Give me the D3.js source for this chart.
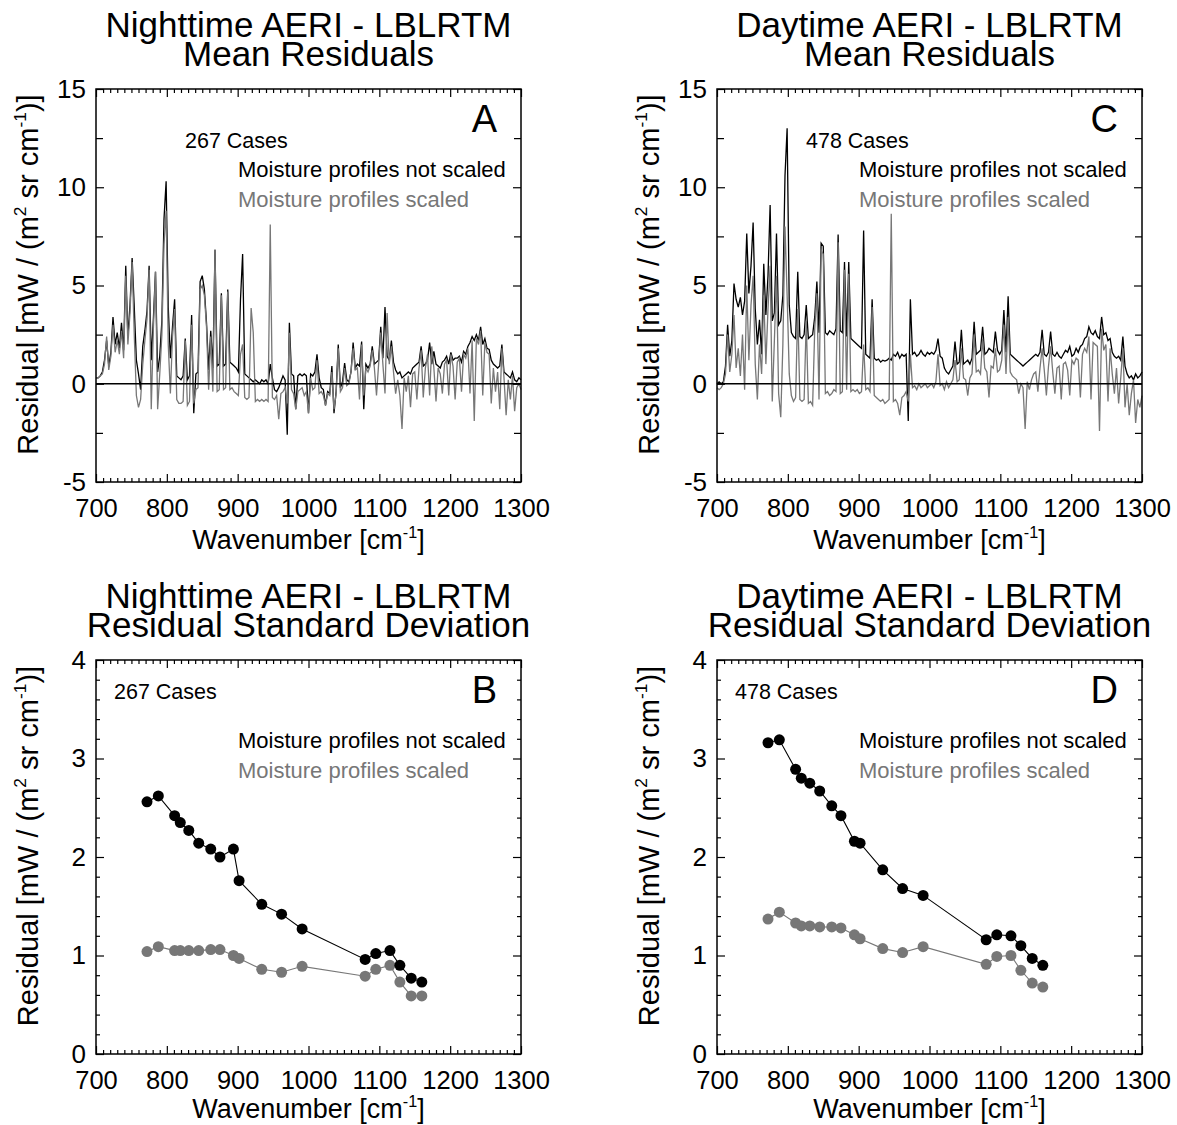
<!DOCTYPE html>
<html>
<head>
<meta charset="utf-8">
<script src="https://cdn.jsdelivr.net/npm/d3@7"></script>
<style>
body { margin: 0; background: #fff; }
text { font-family: "Liberation Sans", Arial, Helvetica, sans-serif; fill: #000; }
</style>
</head>
<body>
<svg id="chart" width="1177" height="1125"></svg>
<script>
// spectral grid of the mean residual panels
const waveStart = 700;
const waveStep = 3;

// nighttime mean residual, moisture profiles not scaled
const nightRaw = [
    0.3, 0.3, 0.4, 0.6, 1.2, 2.2, 0.9, 1.6, 3.4, 2.0,
    2.6, 1.8, 3.1, 1.7, 6.0, 2.4, 4.0, 6.4, 3.9, 1.2,
    0.5, -0.3, 1.9, 2.7, 3.7, 6.0, 1.2, 3.3, 5.7, 0.6,
    1.4, 3.2, 8.4, 10.3, 3.9, 1.3, 2.9, 4.3, 0.4, 0.3,
    0.2, 0.4, 2.3, 0.2, 0.4, 3.5, -1.5, 0.5, 0.6, 5.2,
    5.5, 4.8, 3.1, 0.7, 2.7, 0.8, 6.8, 0.9, 1.0, 4.6,
    0.9, 1.0, 4.8, 1.1, 1.0, 0.9, 0.8, 0.6, 4.3, 6.6,
    0.5, 0.4, 0.3, 0.2, 0.1, 0.2, 0.1, 0.0, 0.2, 0.1,
    0.2, 0.0, 1.0, 0.3, -0.3, -0.4, -0.2, 0.1, 0.4, 0.2,
    -2.6, 3.1, 0.5, 0.4, -1.3, 0.4, 0.5, 0.4, 0.5, 0.4,
    -1.5, 0.5, 0.4, 0.6, 1.5, 0.3, -0.2, -0.3, -1.1, -0.4,
    -0.5, 0.9, -1.5, -0.4, 2.0, -0.2, 0.1, 1.05, 0.2, 0.1,
    0.6, 2.1, 0.8, 1.0, 0.9, 2.15, -1.3, 1.0, 0.8, 1.0,
    1.9, 1.0, 1.1, 1.2, 2.9, 1.3, 3.9, 1.4, 1.2, 2.2,
    1.1, 0.7, 0.5, 0.6, 0.3, 0.4, 0.5, 0.6, 0.5, 0.8,
    0.9, 1.0, 1.1, 1.9, 0.9, 1.0, 1.2, 2.1, 1.0, 1.65,
    1.0, 0.9, 0.8, 1.1, 1.2, 1.4, 1.0, 1.6, 1.2, 1.3,
    1.3, 1.4, 1.1, 1.65, 1.5, 1.9, 2.1, 2.4, 2.2, 2.5,
    2.2, 2.9, 2.0, 2.3, 1.8, 1.75, 1.2, 1.0, 0.9, 0.8,
    0.9, 2.0, 0.6, 0.5, 0.4, 0.3, 0.6, 0.2, 0.1, 0.3,
    0.2
];

// nighttime mean residual, moisture profiles scaled
const nightScaled = [
    0.3, 0.3, 0.4, 0.5, 1.0, 2.4, 0.7, 1.4, 3.0, 1.6,
    2.2, 1.5, 2.7, 1.3, 5.5, 2.0, 3.6, 6.2, 2.5, -0.6,
    -1.2, -0.8, 1.0, 2.2, 3.3, 5.8, -1.3, 2.8, 5.7, -1.3,
    0.5, 2.5, 7.1, 8.8, 2.0, -0.5, 2.4, 3.8, -0.8, -1.0,
    -1.0, -0.9, 2.2, -1.1, -0.9, 3.0, -1.0, -0.3, -0.2, 4.8,
    5.0, 4.5, 2.9, -0.3, 2.4, -0.4, 6.85, -0.4, -0.3, 4.5,
    -0.3, -0.2, 4.7, -0.3, -0.2, -0.4, -0.5, -0.6, 1.5, 2.0,
    -0.7, -0.8, -0.7, 3.85, 2.6, -0.9, -0.8, -0.9, -0.8, -0.9,
    -0.8, -0.9, 8.1, -0.7, -0.8, -0.6, -1.8, -0.5, -0.4, -0.2,
    -1.0, 2.6, -0.3, -0.5, -1.3, -0.4, -0.3, -0.2, -0.6, -0.4,
    -1.5, 0.3, -0.3, -0.2, 1.2, -0.5, -0.4, -0.6, -1.1, -0.5,
    -0.6, 0.6, -1.3, -0.5, 1.8, -0.4, -0.2, 0.8, -0.1, 0.0,
    0.6, 1.8, 0.7, 0.8, -0.8, 2.0, -0.6, 0.8, 0.6, 0.9,
    1.7, 0.8, -0.6, 1.0, 2.6, 1.0, -0.5, 3.6, 1.0, 1.9,
    0.6, -0.5, 0.2, -0.6, -2.3, 0.3, -0.4, 0.4, -1.2, 0.5,
    0.6, -0.8, 0.8, 1.7, -0.7, 0.8, 1.5, -0.6, 1.9, 0.8,
    -0.9, 0.8, 0.5, -0.5, 1.0, 1.2, -0.6, 1.5, 0.9, -0.8,
    1.1, 1.3, -0.4, 1.5, 1.3, 1.8, -0.5, 2.2, -1.9, 2.3,
    2.0, 2.7, -0.6, 2.1, 1.6, 1.5, -1.0, 0.8, -0.4, 0.6,
    -1.3, 1.8, 0.3, -1.6, 0.2, -0.8, 0.4, -1.4, -0.2, 0.0,
    -0.3
];

// daytime mean residual, moisture profiles not scaled
const dayRaw = [
    0.0, 0.1, 0.0, 0.1, 0.9, 3.0, 1.4, 2.2, 5.1, 4.3,
    3.9, 4.4, 3.5, 4.2, 7.65, 4.6, 6.0, 8.2, 3.8, 2.0,
    3.25, 1.5, 6.1, 3.5, 5.5, 9.1, 3.2, 3.6, 7.65, 3.0,
    3.2, 4.5, 10.6, 13.0, 4.0, 2.6, 2.4, 2.3, 5.7, 2.4,
    2.3, 2.5, 4.0, 2.3, 2.4, 2.5, 3.4, 5.2, 2.6, 7.15,
    7.0, 2.6, 2.5, 2.7, 2.6, 2.5, 2.8, 7.6, 2.7, 2.6,
    6.2, 2.4, 6.2, 2.3, 2.2, 2.1, 2.0, 1.9, 1.8, 7.8,
    1.5, 1.4, 1.3, 4.3, 1.3, 1.2, 1.25, 1.1, 1.2, 1.15,
    1.2, 1.3, 1.2, 1.5, 1.4, 1.6, 1.3, 1.5, 1.4, 1.5,
    -1.9, 4.3, 1.5, 1.6, 1.4, 1.5, 1.7, 1.5, 1.4, 1.6,
    1.5, 1.6, 1.5, 1.7, 2.3, 1.4, 1.3, 0.8, 0.6, 0.5,
    0.7, 0.9, 2.15, 1.0, 1.1, 2.75, 1.0, 1.1, 1.2, 1.0,
    1.3, 3.15, 1.5, 1.6, 1.7, 2.9, 1.5, 1.6, 1.8, 1.7,
    1.6, 2.65, 1.7, 1.5, 1.7, 3.75, 1.6, 4.45, 1.5, 1.4,
    1.3, 1.2, 1.1, 1.0, 0.9, 1.0, 1.1, 1.2, 1.3, 1.4,
    1.5, 1.4, 1.6, 2.75, 1.5, 1.4, 1.6, 2.65, 1.5, 1.4,
    1.6, 1.4, 1.3, 1.5, 1.7, 1.6, 1.9, 1.4, 1.5, 1.8,
    1.6, 1.9, 2.0, 2.3, 2.4, 2.9, 2.6, 2.5, 2.7, 2.4,
    2.3, 3.4, 2.5, 2.6, 2.2, 2.3, 1.6, 1.4, 1.3, 1.4,
    1.2, 2.4, 0.9, 0.5, 0.3, 0.4, 0.2, 0.5, 0.3, 0.4,
    0.6
];

// daytime mean residual, moisture profiles scaled
const dayScaled = [
    -0.2, -0.3, -0.2, 0.0, 0.5, 2.5, 0.6, 1.5, 3.5, 0.8,
    1.8, 0.4, 2.5, -0.3, 5.0, 1.2, 4.0, 5.5, 1.0, -0.8,
    2.0, 0.5, 4.5, 1.0, 3.8, 6.0, -0.9, 2.2, 5.5, -0.5,
    -1.7, 2.0, 8.0, 4.5, 0.5, -0.6, -0.9, -0.7, 3.8, -0.8,
    -0.9, -0.8, 3.2, -1.0, -0.9, -1.1, 2.8, 4.6, -0.8, 6.8,
    6.6, -0.5, -0.4, -0.6, -0.5, -0.3, -0.4, 7.2, -0.5, -0.4,
    5.8, -0.3, 5.6, -0.4, -0.3, -0.4, -0.3, -0.5, -0.4, 2.0,
    -0.3, -0.2, -0.4, 3.9, -0.6, -0.7, -0.8, -0.9, -0.8, -1.0,
    -0.9, -0.8, 8.65, -0.9, -0.8, -1.0, -1.6, -0.7, -0.6, -0.4,
    -0.9, 1.5, -0.2, -0.1, -0.3, 0.0, -0.2, -0.1, 0.0, -0.2,
    -0.1, 0.0, -0.2, 0.1, 1.5, -0.1, 0.0, -0.3, 0.1, -0.2,
    0.0, 0.2, 1.2, 0.1, 0.2, 1.8, 0.3, 0.2, -0.6, 0.3,
    0.5, 2.5, 0.6, 0.7, 0.5, 2.3, 0.8, 0.6, -0.7, 0.9,
    0.8, 1.8, 0.6, 0.7, 1.2, 3.0, 0.5, 3.4, 0.6, 0.4,
    0.3, 0.2, -0.5, 0.0, -0.2, -2.3, 0.1, -0.3, 0.2, 0.5,
    0.6, -0.4, 0.8, 1.8, 0.7, -0.6, 0.9, 1.9, 0.6, -0.5,
    0.8, 0.9, -0.8, 1.0, 1.1, 0.7, -0.6, 1.2, 1.0, 1.3,
    1.2, -0.7, 1.5, 1.8, 1.6, 2.4, -0.8, 2.1, 2.0, 1.9,
    -2.4, 2.8, 1.7, 2.0, -0.9, 1.8, 0.5, -0.5, 0.8, -1.0,
    0.3, 1.8, -1.2, 0.0, -1.6, -0.5, 0.2, -2.0, -0.8, -1.2,
    -0.6
];

// channels used for the standard deviation panels
const channelWaves = [772, 788, 811, 819, 831, 845, 862, 875, 894, 902, 934, 962, 991, 1080, 1095, 1115, 1129, 1145, 1160];
const nightSdRaw = [2.56, 2.62, 2.42, 2.35, 2.27, 2.14, 2.08, 2.00, 2.08, 1.76, 1.52, 1.42, 1.27, 0.96, 1.02, 1.05, 0.90, 0.77, 0.73];
const nightSdScaled = [1.04, 1.09, 1.05, 1.05, 1.05, 1.05, 1.06, 1.06, 1.00, 0.97, 0.86, 0.83, 0.89, 0.79, 0.86, 0.90, 0.73, 0.59, 0.59];
const daySdRaw = [3.16, 3.19, 2.89, 2.80, 2.75, 2.67, 2.52, 2.42, 2.16, 2.14, 1.87, 1.68, 1.61, 1.16, 1.21, 1.20, 1.10, 0.97, 0.90];
const daySdScaled = [1.37, 1.44, 1.33, 1.30, 1.30, 1.29, 1.29, 1.28, 1.21, 1.17, 1.07, 1.03, 1.09, 0.91, 0.99, 1.00, 0.85, 0.72, 0.68];

const xTicks = [700, 800, 900, 1000, 1100, 1200, 1300];
const meanTicks = [-5, 0, 5, 10, 15];
const sdTicks = [0, 1, 2, 3, 4];

const grey = "#777777";
const plotW = 425;

const svg = d3.select("#chart");

// text with superscripts: parts = [[string, isSup], ...]
function richText(sel, parts, size) {
    let up = false;
    parts.forEach(([s, sup]) => {
        const t = sel.append("tspan").text(s);
        if (sup && !up) { t.attr("dy", -0.42 * size).attr("font-size", 0.6 * size); up = true; }
        else if (sup) { t.attr("font-size", 0.6 * size); }
        else if (up) { t.attr("dy", 0.42 * size); up = false; }
    });
}

function drawFrame(g, x, y, h, yTicks, yMinor) {
    const major = 8, minor = 4;
    const xMinor = d3.range(710, 1300, 10).filter(v => v % 100);

    g.append("g").attr("transform", `translate(0,${h})`)
        .call(d3.axisBottom(x).tickValues(xTicks).tickSize(-major).tickPadding(17).tickFormat(d => String(d)))
        .call(a => a.select(".domain").remove())
        .call(a => a.selectAll("text").attr("font-size", 25.5).attr("font-family", null));
    g.append("g").attr("transform", `translate(0,${h})`)
        .call(d3.axisBottom(x).tickValues(xMinor).tickSize(-minor).tickFormat(""))
        .call(a => a.select(".domain").remove());
    g.append("g")
        .call(d3.axisTop(x).tickValues(xTicks).tickSize(-major).tickFormat(""))
        .call(a => a.select(".domain").remove());
    g.append("g")
        .call(d3.axisTop(x).tickValues(xMinor).tickSize(-minor).tickFormat(""))
        .call(a => a.select(".domain").remove());

    g.append("g")
        .call(d3.axisLeft(y).tickValues(yTicks).tickSize(-major).tickPadding(10).tickFormat(d => String(d)))
        .call(a => a.select(".domain").remove())
        .call(a => a.selectAll("text").attr("font-size", 26).attr("font-family", null));
    g.append("g")
        .call(d3.axisLeft(y).tickValues(yMinor.v).tickSize(-yMinor.len).tickFormat(""))
        .call(a => a.select(".domain").remove());
    g.append("g").attr("transform", `translate(${plotW},0)`)
        .call(d3.axisRight(y).tickValues(yTicks).tickSize(-major).tickFormat(""))
        .call(a => a.select(".domain").remove());
    g.append("g").attr("transform", `translate(${plotW},0)`)
        .call(d3.axisRight(y).tickValues(yMinor.v).tickSize(-yMinor.len).tickFormat(""))
        .call(a => a.select(".domain").remove());

    g.selectAll(".tick line").attr("stroke", "#000").attr("stroke-width", 1.2);

    g.append("rect")
        .attr("width", plotW).attr("height", h)
        .attr("fill", "none").attr("stroke", "#000").attr("stroke-width", 1.5);
}

function drawLabels(cfg, h) {
    const cx = cfg.left + plotW / 2;
    // two-line title as one text block
    const title = svg.append("text").attr("text-anchor", "middle").attr("font-size", 35);
    title.append("tspan").attr("x", cx).attr("y", cfg.top - 52).text(cfg.title[0]);
    title.append("tspan").attr("x", cx).attr("y", cfg.top - 23).text(cfg.title[1]);

    const xl = svg.append("text").attr("x", cx).attr("y", cfg.top + h + cfg.xTitleY)
        .attr("text-anchor", "middle").attr("font-size", 27);
    richText(xl, [["Wavenumber [cm", false], ["-1", true], ["]", false]], 27);

    const yl = svg.append("text")
        .attr("transform", `translate(${cfg.left - 58},${cfg.top + h / 2 - 11}) rotate(-90)`)
        .attr("text-anchor", "middle").attr("font-size", 29);
    richText(yl, [["Residual [mW / (m", false], ["2", true], [" sr cm", false], ["-1", true], [")]", false]], 29);

    svg.append("text").attr("x", cfg.left + cfg.casesX).attr("y", cfg.top + cfg.casesY)
        .attr("font-size", 21.5).text(cfg.cases);
    svg.append("text").attr("x", cfg.left + 142).attr("y", cfg.top + cfg.legendY)
        .attr("font-size", 22).text("Moisture profiles not scaled");
    svg.append("text").attr("x", cfg.left + 142).attr("y", cfg.top + cfg.legendY + 30)
        .attr("font-size", 22).style("fill", grey).text("Moisture profiles scaled");
    svg.append("text").attr("x", cfg.left + 401).attr("y", cfg.top + cfg.letterY)
        .attr("text-anchor", "end").attr("font-size", 38).text(cfg.letter);
}

function meanPanel(cfg) {
    const h = 393;
    const g = svg.append("g").attr("transform", `translate(${cfg.left},${cfg.top})`);
    const x = d3.scaleLinear().domain([700, 1300]).range([0, plotW]);
    const y = d3.scaleLinear().domain([-5, 15]).range([h, 0]);

    const line = d3.line()
        .x((d, i) => x(waveStart + i * waveStep))
        .y(d => y(d));

    g.append("path").datum(cfg.raw)
        .attr("d", line).attr("fill", "none").attr("stroke", "#000").attr("stroke-width", 1.3);
    g.append("path").datum(cfg.scaled)
        .attr("d", line).attr("fill", "none").attr("stroke", grey).attr("stroke-width", 1.3);

    g.append("line")
        .attr("x1", 0).attr("x2", plotW).attr("y1", y(0)).attr("y2", y(0))
        .attr("stroke", "#000").attr("stroke-width", 1.3);

    drawFrame(g, x, y, h, meanTicks, { v: [-2.5, 2.5, 7.5, 12.5], len: 7 });
    drawLabels(cfg, h);
}

function sdPanel(cfg) {
    const h = 394;
    const g = svg.append("g").attr("transform", `translate(${cfg.left},${cfg.top})`);
    const x = d3.scaleLinear().domain([700, 1300]).range([0, plotW]);
    const y = d3.scaleLinear().domain([0, 4]).range([h, 0]);

    const line = d3.line()
        .x((d, i) => x(channelWaves[i]))
        .y(d => y(d));

    [[cfg.scaled, grey], [cfg.raw, "#000"]].forEach(([vals, col]) => {
        g.append("path").datum(vals)
            .attr("d", line).attr("fill", "none").attr("stroke", col).attr("stroke-width", 1.1);
        g.selectAll(null).data(vals).enter().append("circle")
            .attr("cx", (d, i) => x(channelWaves[i]))
            .attr("cy", d => y(d))
            .attr("r", 5.5)
            .attr("fill", col);
    });

    const minor = d3.range(0.2, 4, 0.2).filter(v => Math.abs(v - Math.round(v)) > 0.01);
    drawFrame(g, x, y, h, sdTicks, { v: minor, len: 4 });
    drawLabels(cfg, h);
}

meanPanel({
    left: 96, top: 89, raw: nightRaw, scaled: nightScaled,
    title: ["Nighttime AERI - LBLRTM", "Mean Residuals"], xTitleY: 67,
    cases: "267 Cases", casesX: 89, casesY: 59, legendY: 88, letter: "A", letterY: 43
});
meanPanel({
    left: 717, top: 89, raw: dayRaw, scaled: dayScaled,
    title: ["Daytime AERI - LBLRTM", "Mean Residuals"], xTitleY: 67,
    cases: "478 Cases", casesX: 89, casesY: 59, legendY: 88, letter: "C", letterY: 43
});
sdPanel({
    left: 96, top: 660, raw: nightSdRaw, scaled: nightSdScaled,
    title: ["Nighttime AERI - LBLRTM", "Residual Standard Deviation"], xTitleY: 64,
    cases: "267 Cases", casesX: 18, casesY: 39, legendY: 88, letter: "B", letterY: 43
});
sdPanel({
    left: 717, top: 660, raw: daySdRaw, scaled: daySdScaled,
    title: ["Daytime AERI - LBLRTM", "Residual Standard Deviation"], xTitleY: 64,
    cases: "478 Cases", casesX: 18, casesY: 39, legendY: 88, letter: "D", letterY: 43
});
</script>
</body>
</html>
